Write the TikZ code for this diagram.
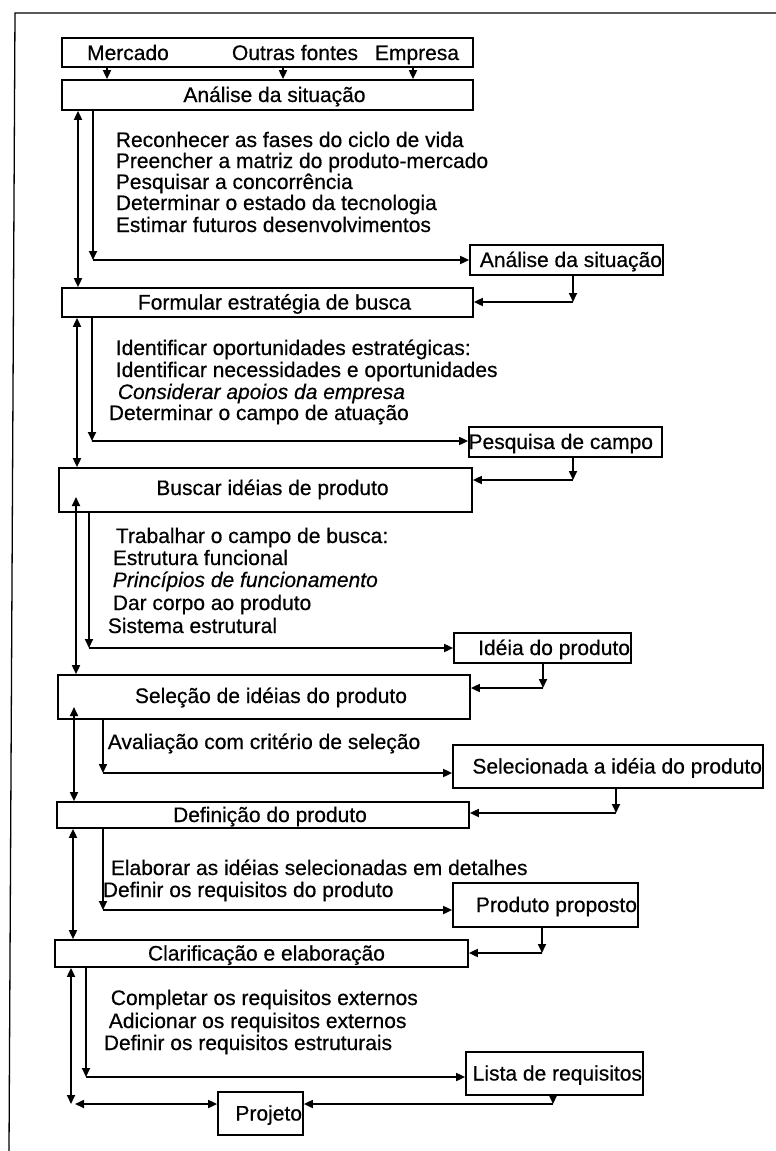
\documentclass[tikz,border=0pt]{standalone}
\usepackage{fontspec}
\setmainfont{Liberation Sans}[FakeBold=0.5]
\usetikzlibrary{arrows.meta}
\begin{document}
\begin{tikzpicture}[x=1pt,y=-1pt,
  line width=1.7pt,
  tip/.style={-{Triangle[length=9pt,width=8pt]}},
  both/.style={{Triangle[length=9pt,width=8pt]}-{Triangle[length=9pt,width=8pt]}},
  box/.style={draw, fill=white, line width=1.7pt, inner sep=0pt},
  lbl/.style={inner sep=0pt, anchor=base, font=\fontsize{21}{21}\selectfont},
  txt/.style={lbl, anchor=base west},
  it/.style={txt, font=\fontsize{21}{21}\selectfont\itshape},
]
\useasboundingbox (0,0) rectangle (776,1151);

% outer frame (top and left sides)
\draw[line width=1.3pt] (776,13) -- (15,13) -- (9,1151);

% sources
\node[box, minimum width=411pt, minimum height=29pt] (src) at (267.5,52.5) {};
\node[lbl] (mer) at (128,60) {Mercado};
\node[lbl] (out) at (295,60) {Outras fontes};
\node[lbl] (emp) at (417,60) {Empresa};

% main stages
\node[box, minimum width=411pt, minimum height=30pt] (s1) at (267.5,95) {};
\node[lbl] (s1t) at ([xshift=7pt,yshift=-7pt]s1.center) {Análise da situação};
\node[box, minimum width=411pt, minimum height=29pt] (s2) at (267.5,302.5) {};
\node[lbl] (s2t) at ([xshift=7pt,yshift=-7pt]s2.center) {Formular estratégia de busca};
\node[box, minimum width=413pt, minimum height=44pt] (s3) at (265.5,490) {};
\node[lbl] (s3t) at ([xshift=7pt,yshift=-5pt]s3.center) {Buscar idéias de produto};
\node[box, minimum width=412pt, minimum height=44pt] (s4) at (264,697) {};
\node[lbl] (s4t) at ([xshift=7pt,yshift=-6pt]s4.center) {Seleção de idéias do produto};
\node[box, minimum width=412pt, minimum height=26pt] (s5) at (263,815) {};
\node[lbl] (s5t) at ([xshift=7pt,yshift=-7pt]s5.center) {Definição do produto};
\node[box, minimum width=413pt, minimum height=27pt] (s6) at (261.5,953.5) {};
\node[lbl] (s6t) at ([xshift=5pt,yshift=-7pt]s6.center) {Clarificação e elaboração};

% results of each stage
\node[box, minimum width=193pt, minimum height=30pt] (r1) at (566.5,260) {};
\node[lbl, anchor=base east] (r1t) at ([xshift=-1pt,yshift=-7pt]r1.east) {Análise da situação};
\node[box, minimum width=193pt, minimum height=30pt] (r2) at (565.5,442) {};
\node[lbl, anchor=base east] (r2t) at ([xshift=-9pt,yshift=-7pt]r2.east) {Pesquisa de campo};
\node[box, minimum width=177pt, minimum height=30pt] (r3) at (542.5,648) {};
\node[lbl, anchor=base east] (r3t) at ([xshift=-1pt,yshift=-7pt]r3.east) {Idéia do produto};
\node[box, minimum width=310pt, minimum height=43pt] (r4) at (608,766.5) {};
\node[lbl, anchor=base east] (r4t) at ([xshift=-1pt,yshift=-7pt]r4.east) {Selecionada a idéia do produto};
\node[box, minimum width=185pt, minimum height=44pt] (r5) at (545.5,905) {};
\node[lbl, anchor=base east] (r5t) at ([xshift=-1pt,yshift=-7pt]r5.east) {Produto proposto};
\node[box, minimum width=177pt, minimum height=43pt] (r6) at (554.5,1073.5) {};
\node[lbl, anchor=base east] (r6t) at ([xshift=-1pt,yshift=-7pt]r6.east) {Lista de requisitos};
\node[box, minimum width=85pt, minimum height=43pt] (pj) at (260.5,1113.5) {};
\node[lbl, anchor=base east] (pjt) at ([xshift=-1pt,yshift=-7pt]pj.east) {Projeto};

% activities of each stage (baselines)
\node[txt] (a11) at (115,147) {Reconhecer as fases do ciclo de vida};
\node[txt] (a12) at (115,168) {Preencher a matriz do produto-mercado};
\node[txt] (a13) at (115,189) {Pesquisar a concorrência};
\node[txt] (a14) at (115,210) {Determinar o estado da tecnologia};
\node[txt] (a15) at (115,232) {Estimar futuros desenvolvimentos};

\node[txt] (a21) at (115,355) {Identificar oportunidades estratégicas:};
\node[txt] (a22) at (115,377) {Identificar necessidades e oportunidades};
\node[it]  (a23) at (117,399) {Considerar apoios da empresa};
\node[txt] (a24) at (108,420) {Determinar o campo de atuação};

\node[txt] (a31) at (115,543) {Trabalhar o campo de busca:};
\node[txt] (a32) at (112,565) {Estrutura funcional};
\node[it]  (a33) at (112,587) {Princípios de funcionamento};
\node[txt] (a34) at (112,610) {Dar corpo ao produto};
\node[txt] (a35) at (107,633) {Sistema estrutural};

\node[txt] (a41) at (107,749) {Avaliação com critério de seleção};

\node[txt] (a51) at (110,875) {Elaborar as idéias selecionadas em detalhes};
\node[txt] (a52) at (102,897) {Definir os requisitos do produto};

\node[txt] (a61) at (110,1005) {Completar os requisitos externos};
\node[txt] (a62) at (108,1028) {Adicionar os requisitos externos};
\node[txt] (a63) at (103,1050) {Definir os requisitos estruturais};

% sources feed the situation analysis
\coordinate (ca) at (107,0);
\coordinate (cb) at (283,0);
\coordinate (cc) at (413,0);
\foreach \c in {ca,cb,cc}
  \draw[tip] (src.south -| \c) -- (s1.north -| \c);

% stage 1
\coordinate (l1) at (78,0);
\draw[both] (s1.south -| l1) -- (s2.north -| l1);
\coordinate (f1) at (93,260);
\draw[tip] (s1.south -| f1) -- (f1);
\draw[tip] (f1) -- (r1.west |- f1);
\coordinate (b1) at (573,302);
\draw[tip] (r1.south -| b1) -- (b1);
\draw[tip] (b1) -- (s2.east |- b1);

% stage 2
\coordinate (l2) at (77,0);
\draw[both] (s2.south -| l2) -- (s3.north -| l2);
\coordinate (f2) at (92,441);
\draw[tip] (s2.south -| f2) -- (f2);
\draw[tip] (f2) -- (r2.west |- f2);
\coordinate (b2) at (573,480);
\draw[tip] (r2.south -| b2) -- (b2);
\draw[tip] (b2) -- (s3.east |- b2);

% stage 3
\coordinate (l3) at (76,497);
\draw[both] (l3) -- (s4.north -| l3);
\coordinate (f3) at (89,648);
\draw[tip] (s3.south -| f3) -- (f3);
\draw[tip] (f3) -- (r3.west |- f3);
\coordinate (b3) at (543,688);
\draw[tip] (r3.south -| b3) -- (b3);
\draw[tip] (b3) -- (s4.east |- b3);

% stage 4
\coordinate (l4) at (74,707);
\draw[both] (l4) -- (s5.north -| l4);
\coordinate (f4) at (103,773);
\draw[tip] (s4.south -| f4) -- (f4);
\draw[tip] (f4) -- (r4.west |- f4);
\coordinate (b4) at (616,813);
\draw[tip] (r4.south -| b4) -- (b4);
\draw[tip] (b4) -- (s5.east |- b4);

% stage 5
\coordinate (l5) at (73,0);
\draw[both] (s5.south -| l5) -- (s6.north -| l5);
\coordinate (f5) at (103,910);
\draw[tip] (s5.south -| f5) -- (f5);
\draw[tip] (f5) -- (r5.west |- f5);
\coordinate (b5) at (542,953);
\draw[tip] (r5.south -| b5) -- (b5);
\draw[tip] (b5) -- (s6.east |- b5);

% stage 6 and the design
\coordinate (l6) at (71,1104);
\draw[both] (s6.south -| l6) -- (l6);
\coordinate (l6h) at (75,1104);
\draw[both] (l6h) -- (pj.west |- l6h);
\coordinate (f6) at (86,1077);
\draw[tip] (s6.south -| f6) -- (f6);
\draw[tip] (f6) -- (r6.west |- f6);
\coordinate (b6) at (553,1104);
\draw[tip] (r6.south -| b6) -- (b6);
\draw[tip] (b6) -- (pj.east |- b6);
\end{tikzpicture}
\end{document}
